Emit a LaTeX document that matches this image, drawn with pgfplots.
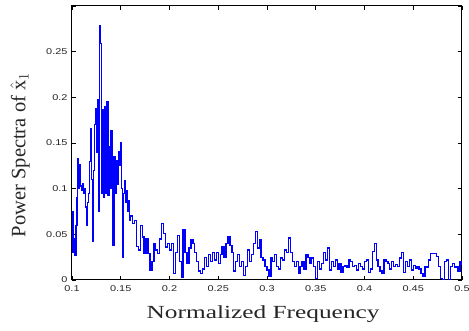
\documentclass[border=0pt]{standalone}
\usepackage{pgfplots}
\pgfplotsset{compat=1.18}
\usepackage{fontspec}
\setmainfont{Liberation Serif}
\newfontfamily\tickfont[FakeStretch=1.3]{Liberation Sans}
\newfontfamily\labfont[FakeStretch=1.37]{Liberation Serif}
\pgfplotstableread{
f v
0.100 0.075
0.101 0.030
0.102 0.045
0.103 0.027
0.104 0.060
0.105 0.090
0.106 0.133
0.107 0.100
0.108 0.126
0.109 0.103
0.110 0.098
0.111 0.105
0.112 0.095
0.113 0.100
0.114 0.080
0.115 0.060
0.116 0.085
0.117 0.095
0.118 0.130
0.119 0.166
0.120 0.110
0.121 0.042
0.122 0.120
0.123 0.170
0.124 0.188
0.125 0.140
0.126 0.197
0.127 0.075
0.128 0.279
0.129 0.259
0.130 0.095
0.131 0.186
0.132 0.091
0.133 0.120
0.134 0.190
0.135 0.095
0.136 0.195
0.137 0.093
0.138 0.146
0.139 0.100
0.140 0.163
0.141 0.110
0.142 0.038
0.143 0.135
0.144 0.095
0.145 0.120
0.146 0.131
0.147 0.105
0.148 0.140
0.149 0.125
0.150 0.150
0.151 0.100
0.152 0.025
0.153 0.095
0.154 0.109
0.155 0.085
0.156 0.098
0.157 0.075
0.158 0.087
0.159 0.065
0.160 0.070
0.162 0.062
0.164 0.065
0.166 0.037
0.168 0.033
0.170 0.060
0.172 0.047
0.174 0.029
0.176 0.045
0.178 0.029
0.180 0.011
0.182 0.020
0.184 0.040
0.186 0.033
0.188 0.029
0.190 0.045
0.192 0.062
0.194 0.051
0.196 0.036
0.198 0.040
0.200 0.033
0.202 0.040
0.204 0.007
0.206 0.030
0.208 0.049
0.210 0.020
0.212 0.003
0.214 0.055
0.216 0.030
0.218 0.018
0.220 0.035
0.222 0.044
0.224 0.040
0.226 0.030
0.228 0.020
0.230 0.010
0.232 0.007
0.234 0.012
0.236 0.025
0.238 0.015
0.240 0.028
0.242 0.020
0.244 0.030
0.246 0.022
0.248 0.030
0.250 0.018
0.252 0.028
0.254 0.036
0.256 0.025
0.258 0.040
0.260 0.048
0.262 0.038
0.264 0.030
0.266 0.010
0.268 0.020
0.270 0.028
0.272 0.015
0.274 0.020
0.276 0.005
0.278 0.015
0.280 0.033
0.282 0.020
0.284 0.028
0.286 0.040
0.288 0.053
0.290 0.035
0.292 0.044
0.294 0.025
0.296 0.022
0.298 0.015
0.300 0.011
0.302 0.004
0.304 0.025
0.306 0.020
0.308 0.028
0.310 0.015
0.312 0.012
0.314 0.024
0.316 0.022
0.318 0.033
0.320 0.030
0.322 0.046
0.324 0.030
0.326 0.020
0.328 0.015
0.330 0.020
0.332 0.007
0.334 0.015
0.336 0.020
0.338 0.012
0.340 0.028
0.342 0.025
0.344 0.018
0.346 0.024
0.348 0.015
0.350 0.002
0.352 0.020
0.354 0.012
0.356 0.018
0.358 0.030
0.360 0.022
0.362 0.035
0.364 0.011
0.366 0.020
0.368 0.015
0.370 0.022
0.372 0.012
0.374 0.018
0.376 0.008
0.378 0.015
0.380 0.016
0.382 0.014
0.384 0.022
0.386 0.020
0.388 0.015
0.390 0.016
0.392 0.011
0.394 0.018
0.396 0.015
0.398 0.012
0.400 0.020
0.402 0.022
0.404 0.008
0.406 0.012
0.408 0.031
0.410 0.040
0.412 0.022
0.414 0.015
0.416 0.010
0.418 0.007
0.420 0.022
0.422 0.020
0.424 0.018
0.426 0.012
0.428 0.020
0.430 0.015
0.432 0.017
0.434 0.015
0.436 0.024
0.438 0.030
0.440 0.008
0.442 0.020
0.444 0.015
0.446 0.022
0.448 0.011
0.450 0.016
0.452 0.013
0.454 0.015
0.456 0.012
0.458 0.007
0.460 0.004
0.462 0.015
0.464 0.014
0.466 0.022
0.468 0.029
0.470 0.029
0.472 0.029
0.474 0.026
0.476 0.015
0.478 0.002
0.480 0.000
0.482 0.020
0.484 0.022
0.486 0.000
0.488 0.015
0.490 0.018
0.492 0.014
0.494 0.015
0.496 0.010
0.498 0.020
0.500 0.016
}\spectrum
\begin{document}
\begin{tikzpicture}
\path[use as bounding box] (-72pt,-51pt) rectangle (397pt,280pt);
\begin{axis}[
  at={(0pt,0pt)}, anchor=south west,
  scale only axis, width=390pt, height=274pt,
  xmin=0.1, xmax=0.5, ymin=0, ymax=0.3,
  xtick={0.1,0.15,0.2,0.25,0.3,0.35,0.4,0.45,0.5},
  xticklabels={0.1,0.15,0.2,0.25,0.3,0.35,0.4,0.45,0.5},
  ytick={0,0.05,0.1,0.15,0.2,0.25,0.3},
  yticklabels={0,0.05,0.1,0.15,0.2,0.25,},
  tick align=inside, major tick length=4pt,
  tick style={black, line width=0.8pt},
  axis line style={black, line width=1pt},
  ticklabel style={font=\tickfont\fontsize{8.4}{9}\selectfont, text=black!85},
  xticklabel style={yshift=-2pt},
  yticklabel style={xshift=-1pt},
  xlabel={\labfont\fontsize{18.5}{20}\selectfont Normalized Frequency},
  xlabel style={at={(axis description cs:0.49,-0.124)}, anchor=center, text=black!85},
  ylabel={\fontsize{20.5}{22}\selectfont Power Spectra of $\hat{\mathrm{x}}_1$},
  ylabel style={at={(axis description cs:-0.133,0.456)}, anchor=center, text=black!85},
  clip=true,
]
\addplot[const plot, color={rgb,255:red,0;green,0;blue,255}, line width=1.3pt] table[x=f, y=v] {\spectrum};
\end{axis}
\end{tikzpicture}
\end{document}
